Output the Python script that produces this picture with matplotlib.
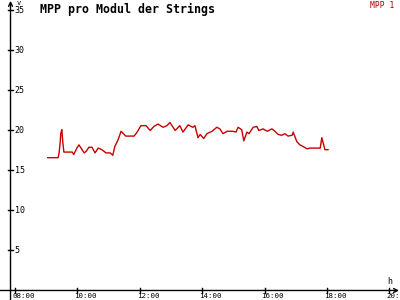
import matplotlib
matplotlib.use("Agg")
import matplotlib.pyplot as plt
from matplotlib.transforms import offset_copy

# Messwerte MPP 1 (Uhrzeit, Spannung pro Modul in V)
zeiten = ["09:03", "09:23", "09:25", "09:27", "09:28", "09:30", "09:32", "09:34",
          "09:50", "09:53", "09:59", "10:03", "10:09", "10:13", "10:17", "10:22",
          "10:28", "10:34", "10:40", "10:47", "10:55", "11:03", "11:08", "11:12",
          "11:18", "11:24", "11:33", "11:49", "11:55", "12:02", "12:12", "12:20",
          "12:27", "12:35", "12:45", "12:52", "12:58", "13:08", "13:17", "13:23",
          "13:33", "13:42", "13:46", "13:52", "13:56", "14:03", "14:09", "14:19",
          "14:28", "14:34", "14:40", "14:48", "14:53", "14:59", "15:05", "15:09",
          "15:16", "15:20", "15:26", "15:30", "15:38", "15:45", "15:49", "15:57",
          "16:05", "16:14", "16:20", "16:26", "16:33", "16:39", "16:45", "16:53",
          "16:55", "17:02", "17:08", "17:14", "17:22", "17:27", "17:47", "17:50",
          "17:56", "18:02"]
mpp1 = [16.6, 16.6, 17.3, 18.6, 19.6, 20.1, 18.5, 17.3,
        17.3, 17.0, 17.8, 18.2, 17.6, 17.2, 17.4, 17.9,
        17.9, 17.2, 17.8, 17.6, 17.2, 17.2, 16.9, 18.0,
        18.8, 19.9, 19.3, 19.3, 19.8, 20.6, 20.6, 20.0,
        20.5, 20.8, 20.4, 20.6, 21.0, 20.0, 20.6, 19.8,
        20.7, 20.4, 20.6, 19.1, 19.5, 19.0, 19.6, 19.9,
        20.4, 20.2, 19.6, 19.9, 19.9, 19.9, 19.8, 20.4,
        20.1, 18.7, 19.8, 19.6, 20.4, 20.5, 20.0, 20.2,
        19.9, 20.2, 19.9, 19.5, 19.4, 19.6, 19.3, 19.4,
        19.8, 18.6, 18.2, 18.0, 17.7, 17.8, 17.8, 19.1,
        17.6, 17.6]

x_ticks = [8, 10, 12, 14, 16, 18, 20]
x_labels = ["08:00", "10:00", "12:00", "14:00", "16:00", "18:00", "20:00"]
y_ticks = [5, 10, 15, 20, 25, 30, 35]

stunden = [int(t[:2]) + int(t[3:]) / 60 for t in zeiten]

mono = "DejaVu Sans Mono"
rot = "#c80000"

fig = plt.figure(figsize=(4, 3), dpi=100)
fig.patch.set_facecolor("white")
ax = fig.add_axes([0, 0, 1, 1])
ax.set_xlim(7.519, 20.34)
ax.set_ylim(-1.19, 36.31)
ax.set_facecolor("white")
for s in ax.spines.values():
    s.set_visible(False)
ax.set_xticks([])
ax.set_yticks([])

x0 = 7.856  # Lage der y-Achse

# Achsen mit Pfeilen
ax.annotate("", xy=(20.31, 0), xytext=(7.519, 0),
            arrowprops=dict(arrowstyle="->", lw=1.0, color="black",
                            shrinkA=0, shrinkB=0, mutation_scale=7))
ax.annotate("", xy=(x0, 36.2), xytext=(x0, -1.19),
            arrowprops=dict(arrowstyle="->", lw=1.0, color="black",
                            shrinkA=0, shrinkB=0, mutation_scale=7))

# Teilstriche
for xt, lab in zip(x_ticks, x_labels):
    ax.plot([xt, xt], [-0.35, 0.35], color="black", lw=1.0)
    ax.text(xt, -1.1, lab, fontsize=5.4, family=mono, ha="left", va="bottom",
            transform=offset_copy(ax.transData, fig=fig, x=-3, y=0, units="dots"))
for yt in y_ticks:
    ax.plot([x0 - 0.08, x0 + 0.08], [yt, yt], color="black", lw=1.0)
    ax.text(x0, yt, str(yt), fontsize=6.0, family=mono, ha="left", va="center",
            transform=offset_copy(ax.transData, fig=fig, x=4, y=0, units="dots"))

ax.text(x0, 36.0, "v", fontsize=5.0, family=mono, ha="left", va="center",
        transform=offset_copy(ax.transData, fig=fig, x=6, y=-1, units="dots"))
ax.text(20.0, 0.6, "h", fontsize=6.0, family=mono, ha="center", va="bottom")

ax.plot(stunden, mpp1, color=rot, lw=1.0)

fig.text(40 / 400, 1 - 9 / 300, "MPP pro Modul der Strings", fontsize=8.4,
         family=mono, fontweight="bold", ha="left", va="center")
fig.text(394 / 400, 1 - 5 / 300, "MPP 1", fontsize=5.8, family=mono,
         color="#b00000", ha="right", va="center")

fig.savefig("out.png", dpi=100)
